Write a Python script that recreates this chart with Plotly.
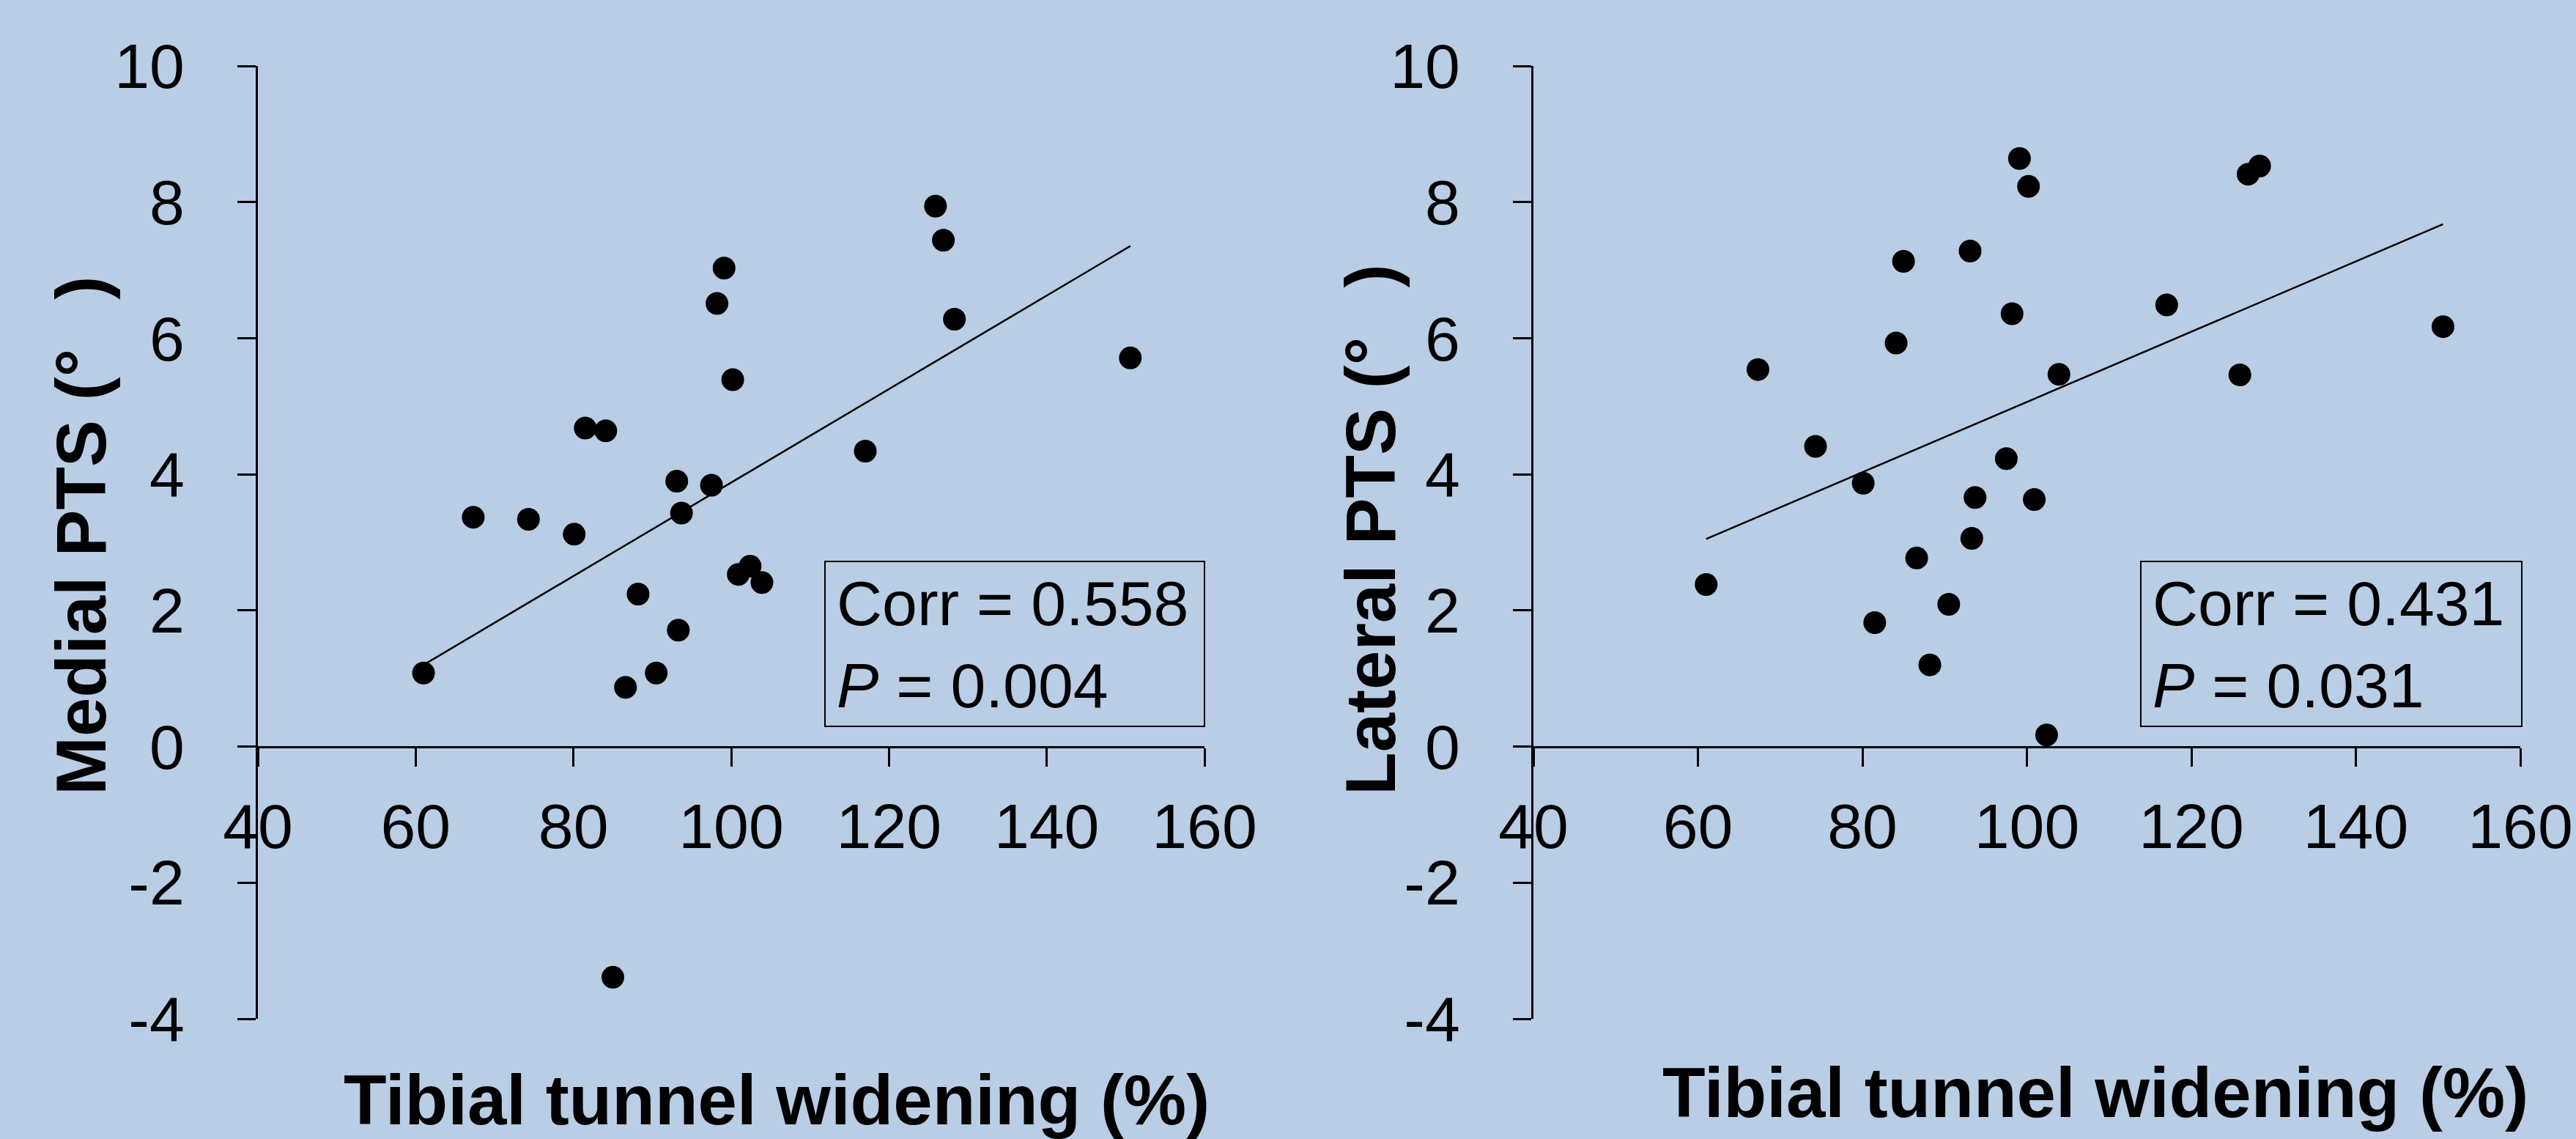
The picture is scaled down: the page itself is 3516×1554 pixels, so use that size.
import numpy as np
import plotly.graph_objects as go

# ---- data ----
tunnel_widening = [61.0, 67.3, 74.3, 80.1, 81.5, 84.1, 85.0, 86.6, 88.2, 90.5,
                   93.1, 93.3, 93.7, 97.5, 98.2, 99.1, 100.2, 100.9, 102.4, 103.9,
                   117.0, 125.9, 126.9, 128.3, 150.6]
medial_pts = [1.08, 3.37, 3.34, 3.12, 4.68, 4.64, -3.39, 0.87, 2.24, 1.08,
              3.90, 1.71, 3.43, 3.84, 6.51, 7.03, 5.39, 2.53, 2.65, 2.41,
              4.34, 7.94, 7.44, 6.28, 5.71]
lateral_pts = [2.38, 5.54, 4.41, 3.87, 1.82, 5.93, 7.13, 2.77, 1.20, 2.09,
               7.28, 3.06, 3.66, 4.23, 6.36, 8.64, 8.23, 3.63, 0.17, 5.47,
               6.49, 5.46, 8.41, 8.53, 6.17]
corr_labels = ["Corr = 0.558", "Corr = 0.431"]
p_labels = ["0.004", "0.031"]
y_titles = ["Medial PTS (°\u2002\u2009)", "Lateral PTS (°\u2002\u2009)"]
x_title = "Tibial tunnel widening (%)"
x_ticks = [40, 60, 80, 100, 120, 140, 160]
y_ticks = [-4, -2, 0, 2, 4, 6, 8, 10]

W, H = 3516, 1554
BG = "#B9CDE5"
FONT = "Arial, Liberation Sans, sans-serif"
TICK_SIZE = 86

fig = go.Figure()

panels = [
    dict(ys=medial_pts, xd=(352 / W, 1644 / W), title_x=1060, ytitle_x=110, ytitle_y=731,
         box=(1126, 766, 1644, 991), xtitle_y=1500),
    dict(ys=lateral_pts, xd=(2093 / W, 3440 / W), title_x=2860, ytitle_x=1870, ytitle_y=723,
         box=(2922, 766, 3442, 991), xtitle_y=1490),
]
ydom = (1 - 1390 / H, 1 - 90 / H)
yrange = [-4, 10]
xrange_ = [40, 160]

for i, p in enumerate(panels):
    n = "" if i == 0 else str(i + 1)
    xa, ya = "x" + n, "y" + n
    xs = np.array(tunnel_widening)
    ys = np.array(p["ys"])
    slope, inter = np.polyfit(xs, ys, 1)
    lx = np.array([xs.min(), xs.max()])
    fig.add_trace(go.Scatter(x=lx, y=slope * lx + inter, mode="lines",
                             line=dict(color="black", width=2.5),
                             xaxis=xa, yaxis=ya, showlegend=False, hoverinfo="skip"))
    fig.add_trace(go.Scatter(x=xs, y=ys, mode="markers",
                             marker=dict(color="black", size=31),
                             xaxis=xa, yaxis=ya, showlegend=False))
    xpos = ydom[0] + (ydom[1] - ydom[0]) * (0 - yrange[0]) / (yrange[1] - yrange[0])
    axis_common = dict(showgrid=False, zeroline=False, showline=True, linecolor="black",
                       linewidth=3, ticks="outside", ticklen=25, tickwidth=3, tickcolor="black",
                       automargin=False,
                       tickfont=dict(family=FONT, size=TICK_SIZE, color="black"))
    fig.update_layout(**{
        "xaxis" + n: dict(domain=list(p["xd"]), range=xrange_, tickvals=x_ticks,
                          ticktext=[str(v) for v in x_ticks],
                          anchor="free", position=xpos, ticklabelstandoff=8, **axis_common),
        "yaxis" + n: dict(domain=list(ydom), range=yrange, tickvals=y_ticks,
                          ticktext=[str(v) for v in y_ticks],
                          anchor=xa, ticklabelstandoff=55, **axis_common),
    })
    # stats box
    x0, y0, x1, y1 = p["box"]
    fig.add_shape(type="rect", xref="paper", yref="paper",
                  x0=x0 / W, x1=x1 / W, y0=1 - y1 / H, y1=1 - y0 / H,
                  line=dict(color="black", width=2), fillcolor="rgba(0,0,0,0)")
    fig.add_annotation(xref="paper", yref="paper", x=(x0 + 14) / W, y=1 - (y0 + y1) / 2 / H,
                       xanchor="left", yanchor="middle", align="left", showarrow=False,
                       text=f"{corr_labels[i]}<br><i>P</i> = {p_labels[i]}",
                       font=dict(family=FONT, size=TICK_SIZE, color="black"))
    # axis titles
    fig.add_annotation(xref="paper", yref="paper", x=p["title_x"] / W, y=1 - p["xtitle_y"] / H,
                       xanchor="center", yanchor="middle", showarrow=False, text=f"<b>{x_title}</b>",
                       font=dict(family=FONT, size=96, color="black"))
    fig.add_annotation(xref="paper", yref="paper", x=p["ytitle_x"] / W, y=1 - p["ytitle_y"] / H,
                       xanchor="center", yanchor="middle", showarrow=False, textangle=-90,
                       text=f"<b>{y_titles[i]}</b>",
                       font=dict(family=FONT, size=96, color="black"))

fig.update_layout(width=W, height=H, margin=dict(l=0, r=0, t=0, b=0),
                  paper_bgcolor=BG, plot_bgcolor=BG, showlegend=False)
fig.write_html("out.html", config={"displayModeBar": False},
               post_script="document.body.style.margin='0';document.body.style.background='%s';" % BG)
